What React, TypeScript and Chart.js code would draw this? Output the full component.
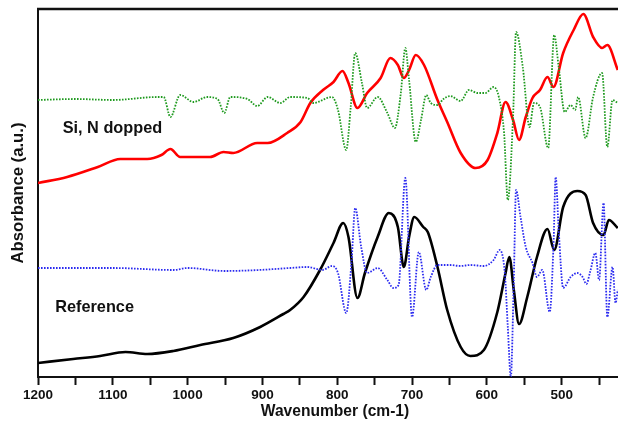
import React, { useEffect, useRef } from 'react';
import { Chart, registerables } from 'chart.js';

Chart.register(...registerables);

// x axis: wavenumber (cm-1), reversed
const xTickValues = [1200, 1150, 1100, 1050, 1000, 950, 900, 850, 800, 750, 700, 650, 600, 550, 500, 450];
const xTickLabels = ['1200', '', '1100', '', '1000', '', '900', '', '800', '', '700', '', '600', '', '500', ''];

// Si, N dopped spectrum (red)
const dopedWn = [1200, 1161, 1120, 1090, 1054, 1035, 1023, 1010, 970, 952, 939, 907, 893, 867, 849, 836, 819, 805, 793, 785, 773, 760, 742, 729, 719, 711, 704, 695, 684, 666, 653, 635, 615, 599, 586, 575, 565, 557, 548, 539, 529, 519, 511, 498, 484, 471, 458, 446, 439, 425];
const dopedAbs = [1.94, 2.0, 2.1, 2.18, 2.18, 2.22, 2.28, 2.2, 2.2, 2.25, 2.24, 2.34, 2.34, 2.44, 2.55, 2.74, 2.87, 2.95, 3.06, 2.94, 2.69, 2.84, 2.99, 3.19, 3.12, 2.99, 3.07, 3.22, 3.12, 2.77, 2.55, 2.24, 2.09, 2.17, 2.44, 2.75, 2.57, 2.37, 2.6, 2.79, 2.87, 3.0, 2.9, 3.24, 3.47, 3.63, 3.4, 3.29, 3.32, 3.07];

// Si, N dopped second derivative (green dotted)
const dopedDerWn = [1200, 1150, 1100, 1040, 1032, 1023, 1010, 992, 974, 960, 951, 943, 920, 907, 893, 876, 863, 840, 832, 807, 799, 788, 782, 776, 767, 760, 746, 733, 723, 715, 709, 704, 695, 688, 681, 675, 666, 658, 649, 635, 624, 612, 602, 591, 584, 577, 572, 565, 561, 552, 543, 537, 529, 518, 510, 504, 496, 488, 482, 478, 468, 458, 446, 439, 432, 425];
const dopedDerAbs = [2.77, 2.78, 2.77, 2.8, 2.8, 2.6, 2.82, 2.75, 2.8, 2.78, 2.64, 2.8, 2.78, 2.71, 2.8, 2.74, 2.8, 2.79, 2.74, 2.8, 2.67, 2.27, 2.7, 3.24, 2.94, 2.69, 2.8, 2.64, 2.49, 2.84, 3.29, 2.97, 2.35, 2.57, 2.82, 2.74, 2.72, 2.78, 2.81, 2.76, 2.87, 2.84, 2.84, 2.9, 2.8, 2.44, 1.77, 2.6, 3.45, 3.1, 2.5, 2.74, 2.7, 2.29, 3.42, 3.1, 2.65, 2.72, 2.67, 2.8, 2.39, 2.8, 3.04, 2.3, 2.77, 2.74];

// Reference spectrum (black)
const refWn = [1200, 1153, 1117, 1083, 1054, 1019, 983, 939, 903, 872, 863, 845, 823, 805, 792, 785, 773, 763, 746, 731, 719, 711, 704, 697, 685, 679, 666, 653, 635, 622, 604, 586, 575, 570, 564, 557, 546, 533, 519, 510, 498, 479, 468, 458, 444, 437, 425];
const refAbs = [0.14, 0.18, 0.21, 0.25, 0.23, 0.26, 0.32, 0.39, 0.5, 0.63, 0.67, 0.8, 1.07, 1.34, 1.54, 1.4, 0.79, 1.04, 1.4, 1.64, 1.5, 1.1, 1.4, 1.6, 1.5, 1.45, 1.1, 0.67, 0.3, 0.21, 0.27, 0.65, 1.04, 1.2, 0.87, 0.53, 0.8, 1.2, 1.48, 1.27, 1.7, 1.86, 1.82, 1.54, 1.42, 1.57, 1.49];

// Reference second derivative (blue dotted)
const refDerWn = [1200, 1100, 1019, 1000, 951, 905, 863, 840, 820, 807, 799, 788, 781, 776, 768, 760, 746, 733, 725, 718, 709, 700, 691, 681, 675, 666, 649, 635, 622, 604, 591, 583, 576, 572, 568, 564, 561, 555, 548, 539, 533, 526, 516, 511, 508, 504, 498, 488, 479, 472, 467, 462, 455, 450, 444, 439, 432, 428, 425];
const refDerAbs = [1.09, 1.09, 1.07, 1.09, 1.06, 1.07, 1.09, 1.1, 1.07, 1.11, 1.04, 0.64, 1.14, 1.69, 1.3, 1.04, 1.09, 0.97, 0.89, 0.92, 1.99, 0.6, 1.25, 0.87, 1.0, 1.12, 1.12, 1.11, 1.12, 1.11, 1.17, 1.27, 1.04, 0.5, 0.0, 0.97, 1.87, 1.6, 1.3, 1.14, 1.0, 1.07, 0.65, 1.3, 2.0, 1.47, 0.89, 1.0, 1.04, 1.0, 0.93, 1.05, 1.24, 0.97, 1.74, 0.6, 1.1, 0.74, 0.87];

const seriesLabels = ['Si, N dopped', 'Reference'];

const FONT = "'Liberation Sans', Arial, Helvetica, sans-serif";

const toPts = (xs: number[], ys: number[]) => xs.map((x, i) => ({ x, y: ys[i] }));

const decorPlugin = {
  id: 'decor',
  afterDraw(chart: any) {
    const { ctx, chartArea, scales } = chart;
    ctx.save();
    // top frame line
    ctx.strokeStyle = '#111';
    ctx.lineWidth = 2.5;
    ctx.beginPath();
    ctx.moveTo(chartArea.left - 1, chartArea.top);
    ctx.lineTo(chartArea.right, chartArea.top);
    ctx.stroke();
    // series annotations
    ctx.fillStyle = '#111';
    ctx.font = `bold 16.3px ${FONT}`;
    ctx.textBaseline = 'alphabetic';
    ctx.textAlign = 'left';
    ctx.fillText(seriesLabels[0], scales.x.getPixelForValue(1167), scales.y.getPixelForValue(2.44));
    ctx.fillText(seriesLabels[1], scales.x.getPixelForValue(1177), scales.y.getPixelForValue(0.65));
    ctx.restore();
  },
};

export default function App() {
  const ref = useRef<HTMLCanvasElement>(null);

  useEffect(() => {
    document.body.style.margin = '0';
    const canvas = ref.current;
    if (!canvas) return;
    const chart = new Chart(canvas, {
      type: 'line',
      data: {
        datasets: [
          {
            label: 'Si, N dopped derivative',
            data: toPts(dopedDerWn, dopedDerAbs),
            borderColor: '#1f9a1f',
            borderWidth: 1.8,
            borderDash: [1.6, 1.4],
            pointRadius: 0,
            cubicInterpolationMode: 'monotone',
            fill: false,
          },
          {
            label: 'Reference derivative',
            data: toPts(refDerWn, refDerAbs),
            borderColor: '#2b2bf0',
            borderWidth: 1.8,
            borderDash: [1.6, 1.4],
            pointRadius: 0,
            cubicInterpolationMode: 'monotone',
            fill: false,
          },
          {
            label: 'Si, N dopped',
            data: toPts(dopedWn, dopedAbs),
            borderColor: '#ff0000',
            borderWidth: 2.6,
            pointRadius: 0,
            cubicInterpolationMode: 'monotone',
            fill: false,
          },
          {
            label: 'Reference',
            data: toPts(refWn, refAbs),
            borderColor: '#000000',
            borderWidth: 2.6,
            pointRadius: 0,
            cubicInterpolationMode: 'monotone',
            fill: false,
          },
        ],
      },
      options: {
        responsive: false,
        animation: false,
        events: [],
        layout: { padding: { top: 9, left: 0, right: 0, bottom: 0 } },
        plugins: {
          legend: { display: false },
          tooltip: { enabled: false },
        },
        scales: {
          x: {
            type: 'linear',
            reverse: true,
            min: 406,
            max: 1200,
            afterBuildTicks: (axis: any) => {
              axis.ticks = xTickValues.map((v) => ({ value: v }));
            },
            afterFit: (scale: any) => {
              scale.height = 45;
            },
            ticks: {
              autoSkip: false,
              maxRotation: 0,
              padding: 2,
              color: '#111',
              font: { family: FONT, size: 13.5, weight: 'bold' },
              callback: (value: any) => {
                const i = xTickValues.indexOf(Number(value));
                return i >= 0 ? xTickLabels[i] : '';
              },
            },
            grid: {
              drawOnChartArea: false,
              drawTicks: true,
              tickLength: 8,
              tickWidth: 2,
              tickColor: '#111',
            },
            border: { display: true, color: '#111', width: 2 },
            title: {
              display: true,
              text: 'Wavenumber (cm-1)',
              color: '#111',
              font: { family: FONT, size: 15.6, weight: 'bold' },
              padding: { top: 0, bottom: 1 },
            },
          },
          y: {
            type: 'linear',
            min: 0,
            max: 3.68,
            afterFit: (scale: any) => {
              scale.width = 38;
            },
            ticks: { display: false },
            grid: { display: false, drawTicks: false },
            border: { display: true, color: '#111', width: 2 },
            title: {
              display: true,
              text: 'Absorbance (a.u.)',
              color: '#111',
              font: { family: FONT, size: 16.7, weight: 'bold' },
              padding: { top: 8.5, bottom: 0 },
            },
          },
        },
      },
      plugins: [decorPlugin],
    } as any);
    return () => chart.destroy();
  }, []);

  return (
    <div style={{ width: 618, height: 422, overflow: 'hidden', position: 'relative', background: '#fff' }}>
      <canvas ref={ref} width={632} height={422} style={{ display: 'block', width: 632, height: 422 }} />
    </div>
  );
}
